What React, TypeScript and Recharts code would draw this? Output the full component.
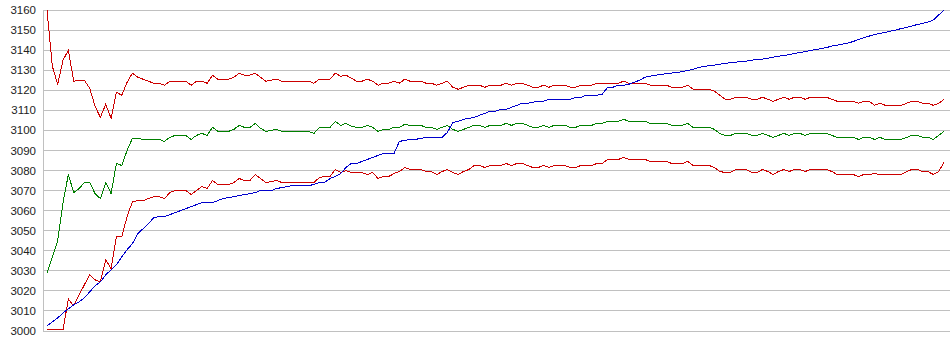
import React from 'react';
import { LineChart, Line, XAxis, YAxis, CartesianGrid } from 'recharts';

// y-axis ticks
const yTicks = [
  3000, 3010, 3020, 3030, 3040, 3050, 3060, 3070, 3080,
  3090, 3100, 3110, 3120, 3130, 3140, 3150, 3160,
];

// upper band (red)
const upperBand = [
  3160, 3132, 3123, 3135, 3140, 3124.5, 3125, 3125, 3121, 3112,
  3106.5, 3113, 3106, 3119, 3117.5, 3124, 3128.5, 3126.5, 3125.5, 3124.5,
  3123.5, 3123.5, 3122.5, 3124.5, 3124.5, 3124.5, 3124.5, 3122.5, 3124.5, 3124.5,
  3123.5, 3127.5, 3125.5, 3125.5, 3125.5, 3126.5, 3128.5, 3127.5, 3127.5, 3128.5,
  3126.5, 3124.5, 3125, 3125.5, 3124.5, 3124.5, 3124.5, 3124.5, 3124.5, 3124.5,
  3123.5, 3125.5, 3125.5, 3125.5, 3128.5, 3127, 3127.5, 3126, 3124.5, 3124.5,
  3125.5, 3124.5, 3122.5, 3123.5, 3123.5, 3124.5, 3123.5, 3125.5, 3124.5, 3124.5,
  3124.5, 3123.5, 3123.5, 3122.5, 3123.5, 3124.5, 3121.5, 3120.5, 3121.5, 3122.5,
  3122.5, 3122.5, 3121.5, 3122.5, 3122.5, 3122.5, 3123.5, 3122.5, 3123.5, 3123.5,
  3122.5, 3121.5, 3121.5, 3122.5, 3121.5, 3122.5, 3122.5, 3122.5, 3121.5, 3121.5,
  3122.5, 3122.5, 3122.5, 3123.5, 3123.5, 3123.5, 3123.5, 3123.5, 3124.5, 3123.5,
  3123.5, 3123.5, 3123.5, 3122.5, 3122.5, 3122.5, 3122.5, 3121.5, 3121.5, 3121.5,
  3122.5, 3120.5, 3120.5, 3120.5, 3120.5, 3119.5, 3117.5, 3115.5, 3115.5, 3116.5,
  3116.5, 3116.5, 3115.5, 3115.5, 3116.5, 3115.5, 3114.5, 3115.5, 3116.5, 3115.5,
  3116.5, 3116.5, 3115.5, 3116.5, 3116.5, 3116.5, 3116.5, 3115.5, 3114.5, 3114.5,
  3114.5, 3114.5, 3113.5, 3114.5, 3114.5, 3112.5, 3113.5, 3112.5, 3112.5, 3112.5,
  3112.5, 3113.5, 3114.5, 3114.5, 3113.5, 3113.5, 3112.5, 3113.5, 3115.5,
];

// middle line (green)
const middleLine = [
  3029, 3037, 3045, 3064, 3078, 3069, 3071, 3074, 3074, 3068.5,
  3066, 3074, 3068.5, 3083.5, 3082.5, 3090, 3096, 3096, 3095.5, 3095.5,
  3095.5, 3095.5, 3094.5, 3096.5, 3097.5, 3097.5, 3097.5, 3095.5, 3097.5, 3098.5,
  3097.5, 3101.5, 3099.5, 3099.5, 3099.5, 3100.5, 3102.5, 3101.5, 3101.5, 3103.5,
  3101, 3099.5, 3100, 3100.5, 3099.5, 3099.5, 3099.5, 3099.5, 3099.5, 3099.5,
  3098.5, 3101.5, 3101.5, 3101.5, 3104.5, 3102.5, 3103.5, 3102, 3101.5, 3101.5,
  3102.5, 3101.5, 3099.5, 3100.5, 3100.5, 3101.5, 3101.5, 3103, 3102.5, 3102.5,
  3102.5, 3101.5, 3101.5, 3100.5, 3101.5, 3102.5, 3100.5, 3099.5, 3100.5, 3101.5,
  3102.5, 3102.5, 3101.5, 3102.5, 3102.5, 3102.5, 3103.5, 3102.5, 3103.5, 3103.5,
  3102.5, 3101.5, 3101.5, 3102.5, 3101.5, 3102.5, 3102.5, 3102.5, 3101.5, 3101.5,
  3102.5, 3102.5, 3102.5, 3103.5, 3103.5, 3104.5, 3104.5, 3104.5, 3105.5, 3104.5,
  3104.5, 3104.5, 3104.5, 3103.5, 3103.5, 3103.5, 3103.5, 3102.5, 3102.5, 3102.5,
  3103.5, 3101.5, 3101.5, 3101.5, 3101.5, 3100.5, 3098.5, 3097.5, 3097.5, 3098.5,
  3098.5, 3098.5, 3097.5, 3097.5, 3098.5, 3097.5, 3096.5, 3097.5, 3098.5, 3097.5,
  3098.5, 3098.5, 3097.5, 3098.5, 3098.5, 3098.5, 3098.5, 3097.5, 3096.5, 3096.5,
  3096.5, 3096.5, 3095.5, 3096.5, 3096.5, 3095.5, 3096.5, 3095.5, 3095.5, 3095.5,
  3095.5, 3096.5, 3097.5, 3097.5, 3096.5, 3096.5, 3095.5, 3097.5, 3099.5,
];

// lower band (red)
const lowerBand = [
  3000.5, 3000.5, 3000.5, 3000.5, 3016, 3012.5, 3018, 3023, 3028, 3025.5,
  3024.5, 3035.5, 3031, 3047, 3047, 3057, 3064.5, 3065, 3065, 3066,
  3067, 3067, 3066, 3069, 3070, 3070, 3070, 3068, 3070, 3072,
  3071, 3075, 3073, 3073, 3073, 3074, 3076, 3075, 3075, 3078,
  3076, 3074, 3074.5, 3075, 3074, 3074, 3074, 3074, 3074, 3074,
  3074, 3076.5, 3077, 3077, 3080.5, 3079, 3080, 3079, 3079, 3079,
  3078, 3079, 3076, 3077, 3077, 3078.5, 3079.5, 3081.5, 3080.5, 3080.5,
  3080.5, 3079.5, 3079.5, 3078, 3079.5, 3080.5, 3079, 3078, 3079.5, 3080.5,
  3082.5, 3082.5, 3081.5, 3082.5, 3082.5, 3082.5, 3083.5, 3082.5, 3083.5, 3083.5,
  3082.5, 3081.5, 3081.5, 3082.5, 3081.5, 3082.5, 3082.5, 3082.5, 3081.5, 3081.5,
  3082.5, 3082.5, 3082.5, 3083.5, 3083.5, 3085.5, 3085.5, 3085.5, 3086.5, 3085.5,
  3085.5, 3085.5, 3085.5, 3084.5, 3084.5, 3084.5, 3084.5, 3083.5, 3083.5, 3083.5,
  3084.5, 3082.5, 3082.5, 3082.5, 3082.5, 3081.5, 3079.5, 3079, 3079, 3080.5,
  3080.5, 3080.5, 3079, 3079, 3080.5, 3079.5, 3078, 3079.5, 3080.5, 3079.5,
  3080.5, 3080.5, 3079.5, 3080.5, 3080.5, 3080.5, 3080.5, 3079.5, 3078, 3078,
  3078, 3078, 3077, 3078, 3078, 3078.5, 3078, 3078, 3078, 3078,
  3078, 3079.5, 3080.5, 3080.5, 3079.5, 3079.5, 3078, 3079.5, 3084,
];

// rising series (blue)
const trendLine = [
  3002.5, 3004.5, 3006.5, 3009, 3011, 3013, 3014.5, 3016.5, 3019.5, 3022.5,
  3024.5, 3028, 3030.5, 3033, 3037, 3040.5, 3043.5, 3048.5, 3051, 3053.5,
  3056.5, 3057, 3057, 3058, 3059, 3060, 3061, 3062, 3063, 3064,
  3064, 3064, 3065, 3066, 3066.5, 3067, 3067.5, 3068, 3068.5, 3069,
  3070, 3070, 3070, 3071, 3071.5, 3072, 3072.5, 3072.5, 3072.5, 3072.5,
  3073, 3074, 3074, 3076, 3077, 3078.5, 3081.5, 3083.5, 3083.5, 3084.5,
  3085.5, 3086.5, 3087.5, 3088.5, 3088.5, 3088.5, 3094.5, 3095, 3095.5, 3095.5,
  3096, 3096.5, 3096.5, 3096.5, 3096.5, 3099, 3104, 3104.5, 3105.5, 3106,
  3106.5, 3107.5, 3108.5, 3109.5, 3109.5, 3110.5, 3110.5, 3111.5, 3112.5, 3113.5,
  3113.5, 3114, 3114.5, 3114.5, 3115.5, 3115.5, 3115.5, 3115.5, 3115.5, 3116.5,
  3116.5, 3117.5, 3117.5, 3117.5, 3118, 3121.5, 3121.5, 3122.5, 3122.5, 3123,
  3124, 3125, 3126.5, 3127, 3127.5, 3127.8, 3128.3, 3128.6, 3128.8, 3129.4,
  3129.8, 3130.5, 3131.3, 3131.8, 3132.3, 3132.5, 3133, 3133.3, 3133.8, 3134,
  3134.3, 3134.5, 3135, 3135.3, 3135.5, 3136, 3136.5, 3137, 3137.3, 3137.8,
  3138.3, 3138.8, 3139.3, 3139.8, 3140.3, 3140.8, 3141.3, 3142, 3142.5, 3143,
  3143.5, 3144.3, 3145.3, 3146.2, 3147, 3147.8, 3148.3, 3148.8, 3149.5, 3150,
  3150.8, 3151.3, 3152, 3152.8, 3153.3, 3154, 3155, 3157.5, 3160,
];

const data = trendLine.map((_, i) => ({
  idx: i,
  upper: upperBand[i],
  middle: middleLine[i],
  lower: lowerBand[i],
  trend: trendLine[i],
}));

export default function App() {
  return (
    <div style={{ position: 'absolute', left: 0, top: 0, background: '#fff' }}>
      <style>{'.recharts-line-curve, .recharts-cartesian-grid line, .recharts-cartesian-axis-line { shape-rendering: crispEdges; }'}</style>
      <LineChart
        width={950}
        height={355}
        data={data}
        margin={{ top: 10, right: 0, left: 0, bottom: 24 }}
      >
        <CartesianGrid vertical={false} stroke="#c0c0c0" />
        <XAxis
          hide
          type="number"
          dataKey="idx"
          domain={[0, 168]}
          padding={{ left: 4, right: 6 }}
        />
        <YAxis
          width={43}
          domain={[3000, 3160]}
          ticks={yTicks}
          interval={0}
          axisLine={{ stroke: '#c0c0c0' }}
          tickLine={false}
          tickSize={0}
          tickMargin={7}
          tick={{ fill: '#222', fontSize: 11.5, fontFamily: 'Liberation Sans, Arial, sans-serif' }}
        />
        <Line type="linear" dataKey="upper" stroke="#cc0000" strokeWidth={1} dot={false} isAnimationActive={false} />
        <Line type="linear" dataKey="middle" stroke="#008000" strokeWidth={1} dot={false} isAnimationActive={false} />
        <Line type="linear" dataKey="lower" stroke="#cc0000" strokeWidth={1} dot={false} isAnimationActive={false} />
        <Line type="linear" dataKey="trend" stroke="#0000cc" strokeWidth={1} dot={false} isAnimationActive={false} />
      </LineChart>
    </div>
  );
}
